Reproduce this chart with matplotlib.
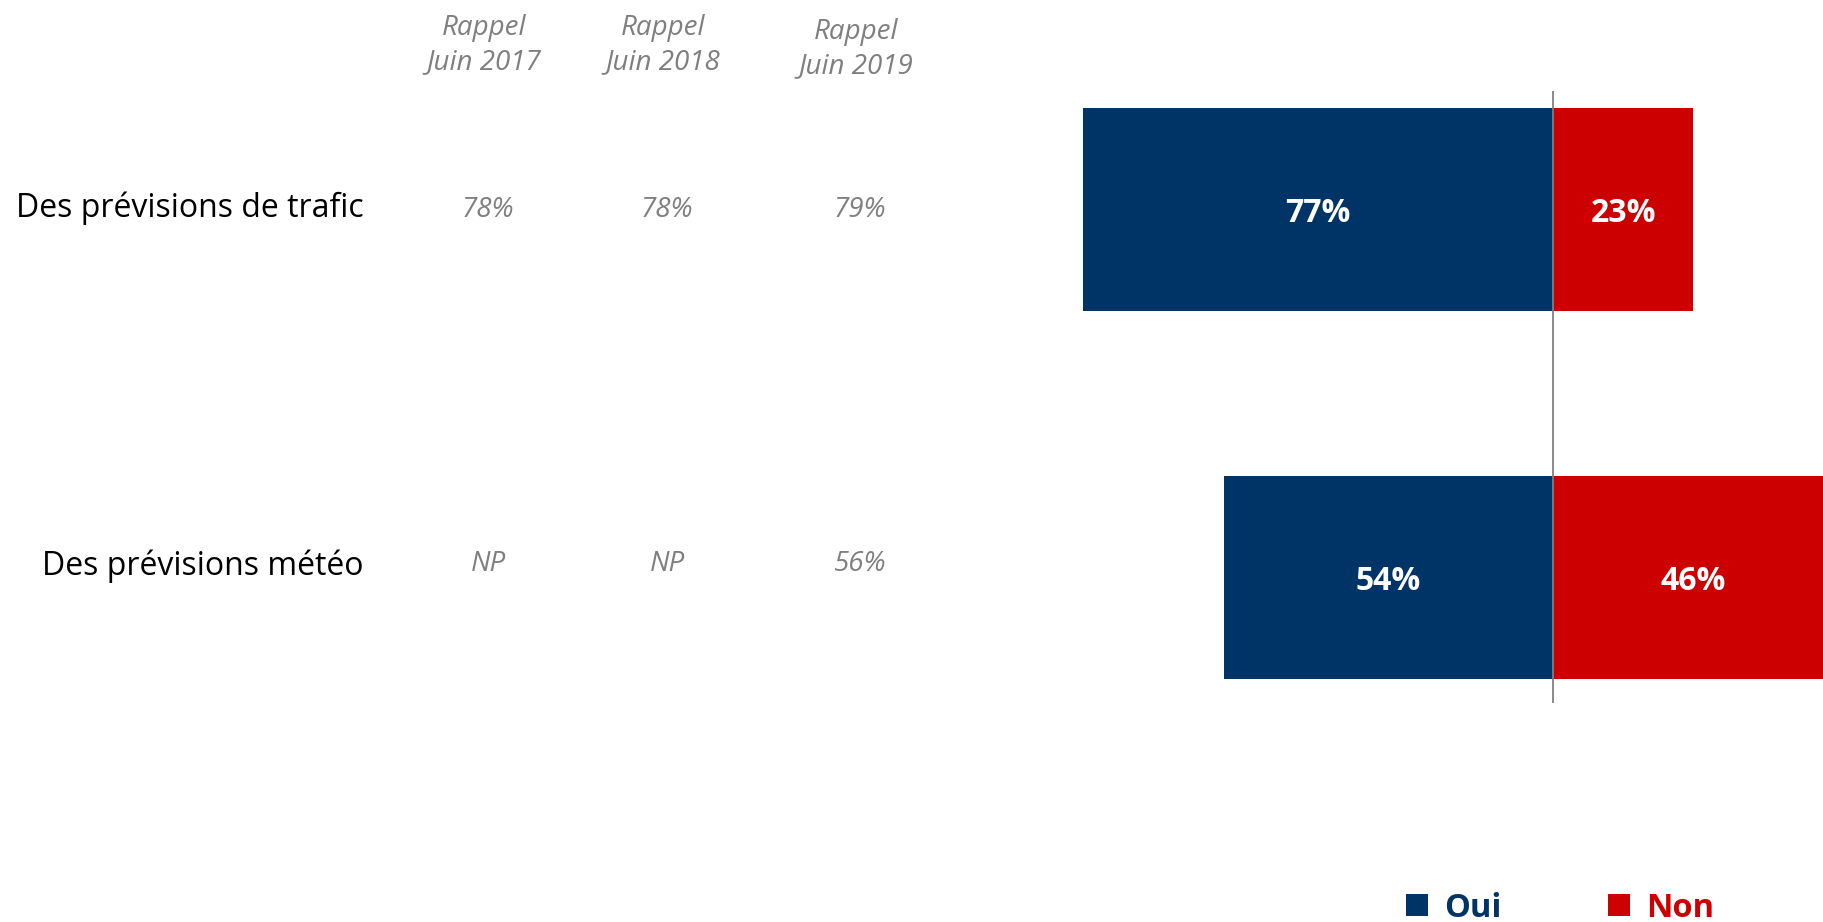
import matplotlib
matplotlib.use('Agg')
import matplotlib.pyplot as plt

# data
categories = ['Des prévisions de trafic', 'Des prévisions météo']
oui = [77, 54]
non = [23, 46]
recall_headers = ['Rappel\nJuin 2017', 'Rappel\nJuin 2018', 'Rappel\nJuin 2019']
recall_values = [['78%', '78%', '79%'],
                 ['NP', 'NP', '56%']]

navy = '#003366'
red = '#CC0000'
grey = '#7F7F7F'

plt.rcParams['font.family'] = ['Open Sans', 'DejaVu Sans']

W, H = 1824, 922
fig = plt.figure(figsize=(W / 100, H / 100), dpi=100)
ax = fig.add_axes([0, 0, 1, 1])

# pixel geometry -> data limits (zero at x=1553px, 6.1 px per %)
x0, ppx = 1553, 6.1
ax.set_xlim(-x0 / ppx, (W - x0) / ppx)
y0, ppy = 209.5, 368
ax.set_ylim((H - y0) / ppy, -y0 / ppy)
ax.axis('off')

ypos = list(range(len(categories)))
b1 = ax.barh(ypos, [-v for v in oui], height=0.55, color=navy, label='Oui')
b2 = ax.barh(ypos, non, height=0.55, color=red, label='Non')

ax.vlines(0, (91 - y0) / ppy, (703 - y0) / ppy, color=grey, lw=1.3)

for i in ypos:
    ax.text(-oui[i] / 2, i + 0.01, f'{oui[i]}%', color='white', fontsize=23,
            fontweight='bold', ha='center', va='center')
    ax.text(non[i] / 2, i + 0.01, f'{non[i]}%', color='white', fontsize=23,
            fontweight='bold', ha='center', va='center')

# category labels
cat_y = [208, 566]
for i, c in enumerate(categories):
    fig.text(364 / W, 1 - cat_y[i] / H, c, fontsize=23, ha='right', va='center', color='black')

# recall columns
col_x = [484, 663, 856]
head_y = [45, 45, 49]
for j, h in enumerate(recall_headers):
    fig.text(col_x[j] / W, 1 - head_y[j] / H, h, fontsize=20, style='italic', color=grey,
             ha='center', va='center', linespacing=1.28)
val_y = [210, 564]
for i in range(len(categories)):
    for j in range(len(recall_headers)):
        fig.text((col_x[j] + 4) / W, 1 - val_y[i] / H, recall_values[i][j], fontsize=20,
                 style='italic', color=grey, ha='center', va='center')

leg = ax.legend(handles=[b1, b2], loc='center left', bbox_to_anchor=(1406 / W, 1 - 908 / H),
                bbox_transform=fig.transFigure, ncol=2, frameon=False, fontsize=23.5,
                handlelength=0.68, handleheight=0.68, handletextpad=0.5, columnspacing=3.25,
                borderpad=0, borderaxespad=0)
for t, col in zip(leg.get_texts(), [navy, red]):
    t.set_color(col)
    t.set_fontweight('bold')

fig.savefig('out.png', dpi=100)
